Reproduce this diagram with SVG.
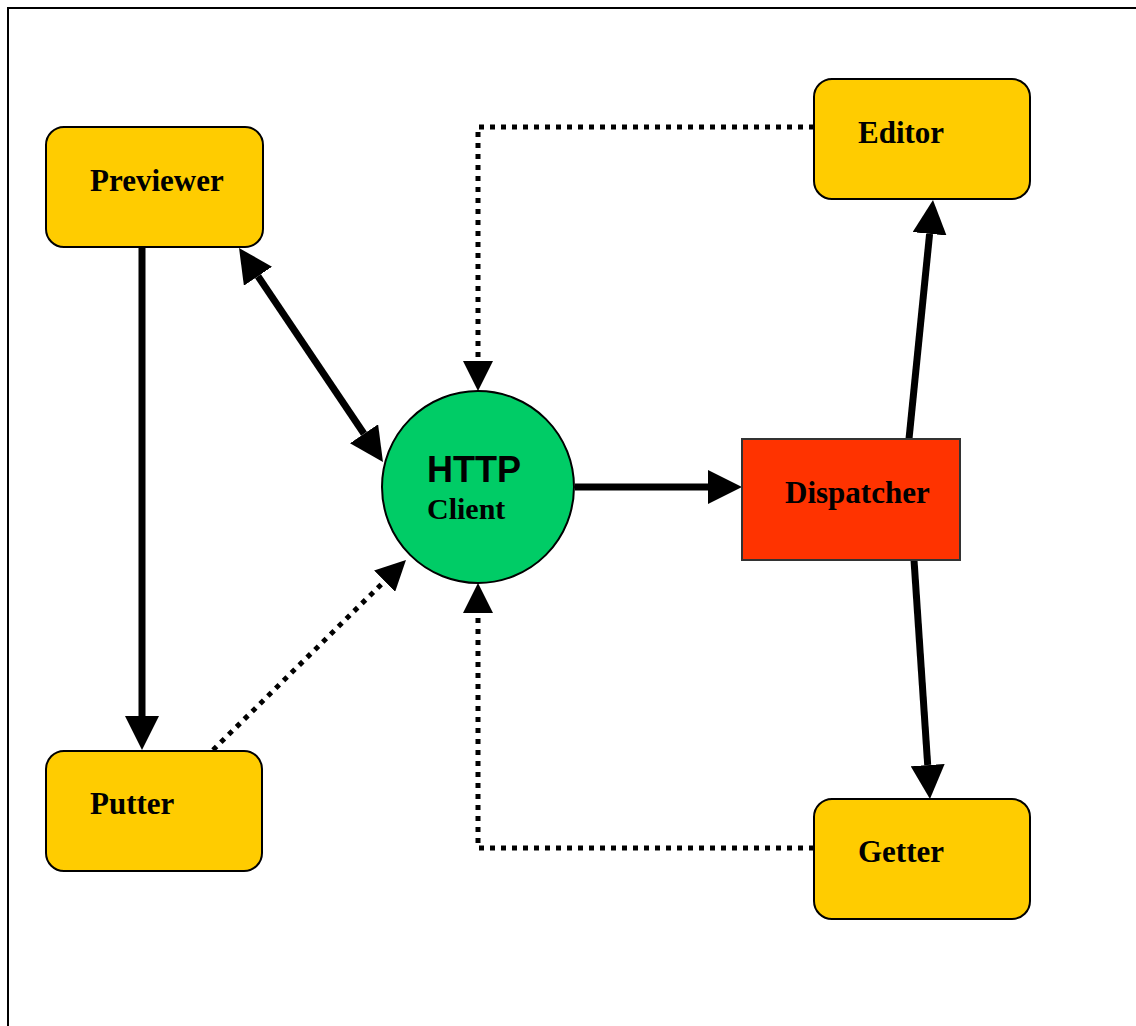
<svg xmlns="http://www.w3.org/2000/svg" width="1136" height="1026" viewBox="0 0 1136 1026">
<style>
.box{fill:#FFCC00;stroke:#000;stroke-width:2}
.lbl{font-family:"Liberation Serif","Times New Roman",serif;font-weight:bold;font-size:31px;fill:#000}
.solid{stroke:#000;stroke-width:7;fill:none}
.dot{stroke:#000;stroke-width:5;fill:none;stroke-dasharray:5 6}
</style>
<defs>
<marker id="ah" viewBox="0 0 10 10" refX="0" refY="5" markerWidth="34" markerHeight="34" markerUnits="userSpaceOnUse" orient="auto-start-reverse">
<path d="M0,0 L10,5 L0,10 z" fill="#000"/>
</marker>
<marker id="ahd" viewBox="0 0 10 10" refX="0" refY="5" markerWidth="30" markerHeight="30" markerUnits="userSpaceOnUse" orient="auto-start-reverse">
<path d="M0,0 L10,5 L0,10 z" fill="#000"/>
</marker>
</defs>
<rect width="1136" height="1026" fill="#fff"/>
<path d="M8,1026 V8 H1136" fill="none" stroke="#000" stroke-width="2"/>
<g id="connectors">
<line class="solid" x1="142" y1="247" x2="142" y2="716" marker-end="url(#ah)"/>
<line class="solid" x1="258" y1="276.2" x2="364" y2="433.8" marker-start="url(#ah)" marker-end="url(#ah)"/>
<line class="solid" x1="575" y1="487" x2="708" y2="487" marker-end="url(#ah)"/>
<line class="solid" x1="909" y1="439" x2="929.6" y2="233.8" marker-end="url(#ah)"/>
<line class="solid" x1="914" y1="560" x2="927.7" y2="765.1" marker-end="url(#ah)"/>
<line class="dot" x1="213" y1="750" x2="384.6" y2="581.1" marker-end="url(#ahd)"/>
<path class="dot" d="M814,127 H478 V361" marker-end="url(#ahd)"/>
<path class="dot" d="M814,848 H478 V613" marker-end="url(#ahd)"/>
</g>
<g id="previewer">
<rect class="box" x="46" y="127" width="217" height="120" rx="18"/>
<text class="lbl" x="90" y="191">Previewer</text>
</g>
<g id="putter">
<rect class="box" x="46" y="751" width="216" height="120" rx="18"/>
<text class="lbl" x="90" y="814">Putter</text>
</g>
<g id="editor">
<rect class="box" x="814" y="79" width="216" height="120" rx="18"/>
<text class="lbl" x="858" y="143">Editor</text>
</g>
<g id="getter">
<rect class="box" x="814" y="799" width="216" height="120" rx="18"/>
<text class="lbl" x="858" y="862">Getter</text>
</g>
<g id="http-client">
<circle cx="478" cy="487" r="96" fill="#00CC66" stroke="#000" stroke-width="2"/>
<text x="427" y="482" font-family="'Liberation Sans',Arial,sans-serif" font-weight="bold" font-size="36">HTTP</text>
<text class="lbl" x="427" y="519" style="font-size:30px">Client</text>
</g>
<g id="dispatcher">
<rect x="742" y="439" width="218" height="121" fill="#FF3300" stroke="#333" stroke-width="2"/>
<text class="lbl" x="785" y="503">Dispatcher</text>
</g>
</svg>
